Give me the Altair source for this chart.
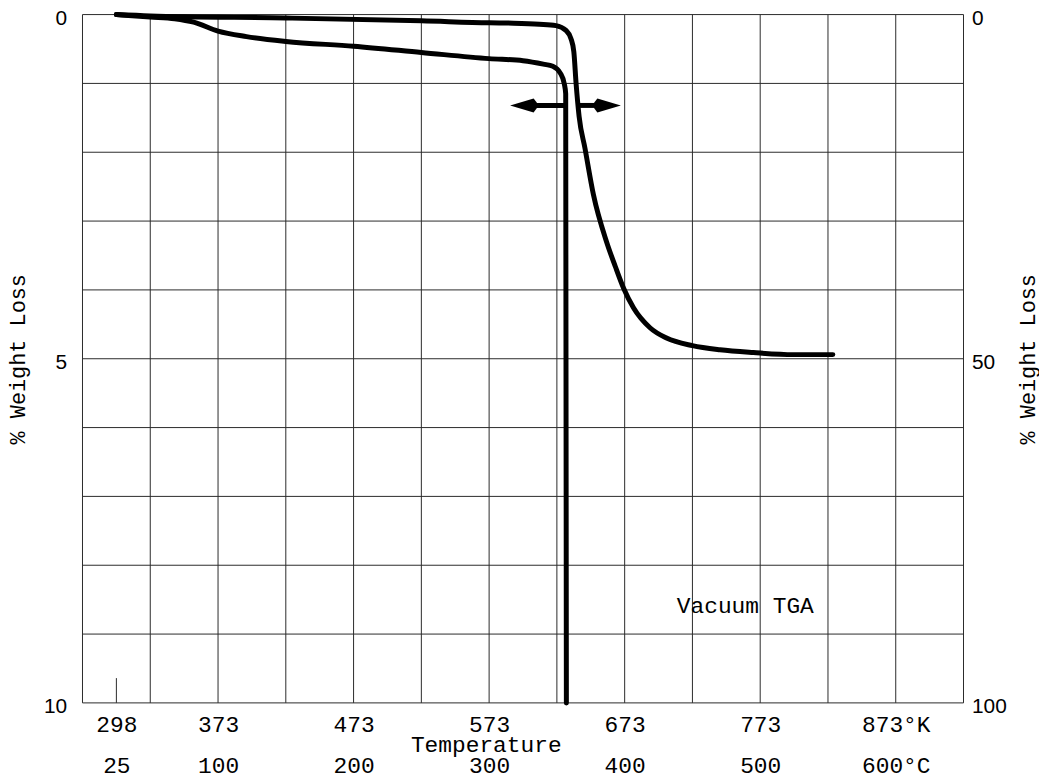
import altair as alt
import pandas as pd

# ---------------- data ----------------
grid_T = list(range(0, 651, 50))          # vertical grid lines, deg C
grid_loss = list(range(0, 11))            # horizontal grid lines, % (left scale)

label_T = [25, 100, 200, 300, 400, 500, 600]
kelvin_labels = ["298", "373", "473", "573", "673", "773", "873°K"]
celsius_labels = ["25", "100", "200", "300", "400", "500", "600°C"]

# curve read on the left axis (0-10 %)
c1_T = [25, 50, 68, 82, 100, 121, 150, 200, 250, 300, 325, 340, 347, 352.5, 355.5, 356.5, 357]
c1_loss = [0.0, 0.035, 0.06, 0.11, 0.24, 0.32, 0.39, 0.46, 0.55, 0.64, 0.67, 0.72, 0.75, 0.85, 1.01, 1.15, 10.0]

# curve read on the right axis (0-100 %)
c2_T = [25, 50, 150, 250, 300, 318, 337, 349.3, 356.7, 360.4, 362.5, 364.2, 366.4, 370.7,
        376.9, 386.8, 393.1, 399.3, 406.5, 418.7, 430.9, 450, 470.3, 495, 524.5, 553.6]
c2_loss = [0.0, 0.2, 0.5, 0.9, 1.2, 1.25, 1.4, 1.6, 2.3, 3.5, 5.4, 10.1, 14.8, 19.4,
           26.1, 33.1, 36.6, 39.8, 42.6, 45.5, 47.0, 48.1, 48.7, 49.1, 49.4, 49.4]

# arrows showing which axis belongs to which curve
arrow_y = [1.32, 1.32]
shaft_start = [331, 366.4]
shaft_end = [357, 380]
head_T = [325.4, 387.3]
head_dir = ["left", "right"]

# annotation
note_text = ["Vacuum TGA"]
note_T = [489]
note_loss = [8.6]

# small tick at 298 K
tick_T = [25]
tick_top = [9.64]
tick_bottom = [10.0]

MONO = "Liberation Mono"
SANS = "Liberation Sans"

# ---------------- scales ----------------
xs = alt.Scale(domain=[0, 650], nice=False, zero=False)
yl = alt.Scale(domain=[0, 10], reverse=True, nice=False, zero=False)
yr = alt.Scale(domain=[0, 100], reverse=True, nice=False, zero=False)

label_expr = " : ".join(
    f"datum.value == {t} ? ['{k}', '{c}']"
    for t, k, c in zip(label_T, kelvin_labels, celsius_labels)
) + " : ''"

x_axis = alt.Axis(
    values=label_T, labelExpr=label_expr, labelFont=MONO, labelFontSize=23,
    labelLineHeight=41, labelPadding=11, labelFlush=False, labelOverlap=False,
    ticks=False, domain=False, grid=False, labelColor="black",
    title="Temperature", titleFont=MONO, titleFontSize=23, titleFontWeight="normal",
    titleX=406, titleY=42, titleBaseline="middle", titleAlign="center", titleColor="black",
)

left_axis = alt.Axis(
    values=[0, 5, 10], orient="left", labelFont=SANS, labelFontSize=21, labelPadding=16,
    labelOffset=4, ticks=False, domain=False, grid=False, labelColor="black",
    title="% Weight Loss", titleFont=MONO, titleFontSize=22, titleFontWeight="normal",
    titleX=-65, titleY=346.5, titleAngle=270, titleAlign="center", titleBaseline="middle",
    titleColor="black",
)

right_axis = alt.Axis(
    values=[0, 50, 100], orient="right", labelFont=SANS, labelFontSize=21, labelPadding=8,
    labelOffset=4, ticks=False, domain=False, grid=False, labelColor="black",
    title="% Weight Loss", titleFont=MONO, titleFontSize=22, titleFontWeight="normal",
    titleX=64, titleY=346.5, titleAngle=270, titleAlign="center", titleBaseline="middle",
    titleColor="black",
)


def X(field):
    return alt.X(field, scale=xs, axis=x_axis)


def YL(field):
    return alt.Y(field, scale=yl, axis=left_axis)


# ---------------- layers on the left scale ----------------
vgrid = alt.Chart(pd.DataFrame({"T": grid_T})).mark_rule(color="#2a2a2a", strokeWidth=1).encode(
    x=X("T:Q")
)
hgrid = alt.Chart(pd.DataFrame({"L": grid_loss})).mark_rule(color="#2a2a2a", strokeWidth=1).encode(
    y=YL("L:Q")
)
tick = alt.Chart(pd.DataFrame({"T": tick_T, "a": tick_top, "b": tick_bottom})).mark_rule(
    color="#2a2a2a", strokeWidth=1
).encode(x=X("T:Q"), y=YL("a:Q"), y2="b:Q")

curve1 = alt.Chart(pd.DataFrame({"T": c1_T, "loss": c1_loss})).mark_line(
    color="black", strokeWidth=5, strokeCap="round", strokeJoin="round", interpolate="monotone"
).encode(x=X("T:Q"), y=YL("loss:Q"))

arrows_df = pd.DataFrame({"x1": shaft_start, "x2": shaft_end, "y": arrow_y,
                          "h": head_T, "dir": head_dir})
shafts = alt.Chart(arrows_df).mark_rule(color="black", strokeWidth=5).encode(
    x=X("x1:Q"), x2="x2:Q", y=YL("y:Q")
)
head_left = alt.Chart(arrows_df).transform_filter("datum.dir == 'left'").mark_point(
    shape="M-1,0L0.75,-0.52L1,-0.2L1,0.2L0.75,0.52Z", filled=True, color="black", opacity=1, size=729
).encode(x=X("h:Q"), y=YL("y:Q"))
head_right = alt.Chart(arrows_df).transform_filter("datum.dir == 'right'").mark_point(
    shape="M1,0L-0.75,-0.52L-1,-0.2L-1,0.2L-0.75,0.52Z", filled=True, color="black", opacity=1, size=729
).encode(x=X("h:Q"), y=YL("y:Q"))

note = alt.Chart(pd.DataFrame({"t": note_text, "T": note_T, "L": note_loss})).mark_text(
    font=MONO, fontSize=23, color="black", align="center", baseline="middle"
).encode(x=X("T:Q"), y=YL("L:Q"), text="t:N")

left_group = alt.layer(vgrid, hgrid, tick, curve1, shafts, head_left, head_right, note)

# ---------------- layer on the right scale ----------------
curve2 = alt.Chart(pd.DataFrame({"T": c2_T, "loss": c2_loss})).mark_line(
    color="black", strokeWidth=5, strokeCap="round", strokeJoin="round", interpolate="monotone"
).encode(
    x=X("T:Q"),
    y=alt.Y("loss:Q", scale=yr, axis=right_axis),
)

chart = alt.layer(left_group, curve2).resolve_scale(y="independent").properties(
    width=887, height=693,
    autosize=alt.AutoSizeParams(type="none"),
    padding={"left": 75, "top": 4, "right": 76, "bottom": 75},
    background="white",
).configure_view(stroke=None)

chart.save("out.html", embed_options={"renderer": "svg", "actions": False})
